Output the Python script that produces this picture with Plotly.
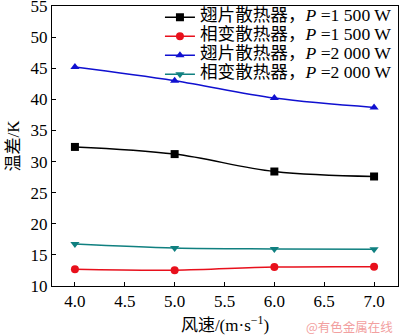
import plotly.graph_objects as go

wind_speed = [4.0, 5.0, 6.0, 7.0]
fin_1500 = [32.35, 31.2, 28.4, 27.6]
pcm_1500 = [12.7, 12.55, 13.05, 13.1]
fin_2000 = [45.2, 43.0, 40.2, 38.7]
pcm_2000 = [16.75, 16.1, 15.95, 15.9]

names = [
    "翅片散热器，<i>P</i> =1 500 W",
    "相变散热器，<i>P</i> =1 500 W",
    "翅片散热器，<i>P</i> =2 000 W",
    "相变散热器，<i>P</i> =2 000 W",
]
series = [fin_1500, pcm_1500, fin_2000, pcm_2000]
colors = ["#000000", "#e8101c", "#1010d0", "#108080"]
symbols = ["square", "circle", "triangle-up", "triangle-down"]

serif = "Liberation Serif, Times New Roman, Noto Sans CJK SC, serif"

fig = go.Figure()
for nm, ys, c, s in zip(names, series, colors, symbols):
    fig.add_trace(go.Scatter(
        x=wind_speed, y=ys, mode="lines+markers",
        name='<span style="font-size:17.6px">' + nm + '</span>',
        line=dict(color=c, width=1.5, shape="spline"),
        marker=dict(color=c, symbol=s, size=8),
    ))

fig.update_layout(
    width=400, height=335,
    margin=dict(l=52, r=2, t=6, b=49, autoexpand=False),
    paper_bgcolor="white", plot_bgcolor="white",
    font=dict(family=serif, size=17, color="black"),
    showlegend=True,
    legend=dict(x=0.312, xanchor="left", y=1.012, yanchor="top",
                bgcolor="rgba(0,0,0,0)", font=dict(size=11, family=serif),
                tracegroupgap=0),
    xaxis=dict(range=[3.77, 7.24], dtick=0.5, tick0=4.0, tickformat=".1f",
               showline=True, mirror=True, linecolor="black", linewidth=1,
               ticks="inside", ticklen=4, tickcolor="black", showgrid=False, zeroline=False,
               ticklabeloverflow="allow", automargin=False,
               title=dict(text="风速/(m·s<sup>−1</sup>)", standoff=9,
                          font=dict(size=17, family=serif))),
    yaxis=dict(range=[10, 55], dtick=5,
               showline=True, mirror=True, linecolor="black", linewidth=1,
               ticks="inside", ticklen=4, tickcolor="black", showgrid=False, zeroline=False,
               ticklabeloverflow="allow", automargin=False,
               title=dict(text="温差/K", standoff=6, font=dict(size=17, family=serif))),
    annotations=[dict(text="@有色金属在线", x=0.99, xref="paper", xanchor="right",
                      y=0, yref="paper", yanchor="top", yshift=-29, showarrow=False,
                      font=dict(size=12.5, color="#f2a0a0", family="Noto Sans CJK SC"))],
)

fig.write_html("out.html")
